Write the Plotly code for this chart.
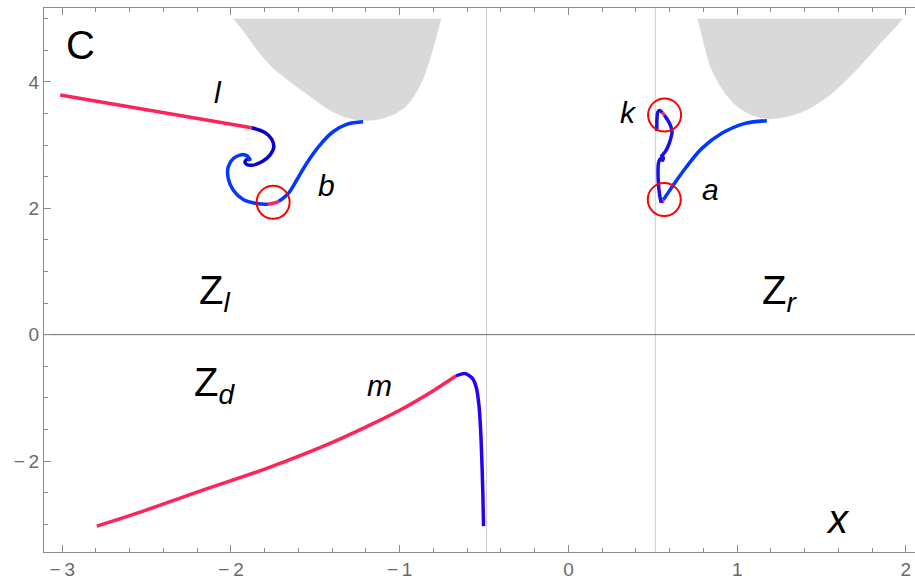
import plotly.graph_objects as go

# ---------------- data ----------------
# shaded regions (boundary, closed along C = 5)
gray_left_x = [-1.986, -1.950, -1.917, -1.858, -1.799, -1.740, -1.680, -1.621, -1.562, -1.503, -1.444, -1.385, -1.325, -1.266, -1.207, -1.148, -1.089, -1.030, -0.970, -0.930, -0.893, -0.862, -0.834, -0.804, -0.775, -0.753]
gray_left_y = [5.0, 4.88, 4.77, 4.55, 4.35, 4.19, 4.06, 3.94, 3.83, 3.71, 3.60, 3.51, 3.44, 3.40, 3.386, 3.395, 3.43, 3.49, 3.59, 3.71, 3.87, 4.04, 4.24, 4.50, 4.78, 5.0]
gray_right_x = [0.765, 0.782, 0.801, 0.820, 0.840, 0.868, 0.899, 0.936, 0.978, 1.025, 1.077, 1.135, 1.195, 1.255, 1.314, 1.373, 1.432, 1.491, 1.550, 1.610, 1.669, 1.728, 1.787, 1.846, 1.905, 1.945, 1.981]
gray_right_y = [5.0, 4.80, 4.61, 4.42, 4.24, 4.08, 3.93, 3.79, 3.66, 3.56, 3.48, 3.43, 3.41, 3.425, 3.46, 3.51, 3.58, 3.68, 3.79, 3.93, 4.08, 4.25, 4.43, 4.60, 4.77, 4.88, 5.0]

# curve l
l_red_x = [-3.012, -2.440, -1.877]
l_red_y = [3.794, 3.535, 3.275]
l_blue_x = [-1.877, -1.799, -1.759, -1.746, -1.769, -1.817, -1.868, -1.907, -1.917, -1.898, -1.882]
l_blue_y = [3.275, 3.198, 3.095, 2.973, 2.841, 2.735, 2.683, 2.694, 2.735, 2.786, 2.762]

# curve b
b_blue1_x = [-1.888, -1.900, -1.923, -1.947, -1.986, -2.016, -2.016, -1.986, -1.927, -1.848, -1.781]
b_blue1_y = [2.746, 2.825, 2.849, 2.841, 2.789, 2.656, 2.471, 2.286, 2.138, 2.075, 2.063]
b_red_x = [-1.781, -1.750, -1.716]
b_red_y = [2.063, 2.080, 2.111]
b_blue2_x = [-1.716, -1.661, -1.611, -1.552, -1.473, -1.395, -1.315, -1.217]
b_blue2_y = [2.111, 2.233, 2.444, 2.710, 3.000, 3.211, 3.329, 3.370]

# curve a
a_blue_x = [1.176, 1.047, 0.909, 0.791, 0.692, 0.614, 0.574, 0.562]
a_blue_y = [3.386, 3.344, 3.186, 2.948, 2.630, 2.338, 2.179, 2.135]
a_red_x = [0.562, 0.552]
a_red_y = [2.135, 2.084]

# curve k
k_blue1_x = [0.550, 0.541, 0.534, 0.531, 0.534, 0.544, 0.558, 0.562, 0.552, 0.560, 0.575, 0.592, 0.607, 0.614, 0.604, 0.580, 0.568]
k_blue1_y = [2.084, 2.206, 2.365, 2.571, 2.714, 2.780, 2.760, 2.800, 2.830, 2.850, 2.900, 2.990, 3.111, 3.211, 3.317, 3.429, 3.476]
k_red_x = [0.568, 0.556]
k_red_y = [3.476, 3.516]
k_blue2_x = [0.556, 0.541, 0.530, 0.525, 0.524, 0.524]
k_blue2_y = [3.516, 3.548, 3.524, 3.429, 3.317, 3.222]

# curve m
m_red_x = [-2.795, -2.578, -2.183, -1.788, -1.395, -1.199, -1.000, -0.803, -0.665]
m_red_y = [-3.030, -2.845, -2.476, -2.115, -1.700, -1.460, -1.196, -0.890, -0.651]
m_blue_x = [-0.665, -0.635, -0.615, -0.596, -0.566, -0.546, -0.531, -0.521, -0.513, -0.507, -0.503]
m_blue_y = [-0.651, -0.624, -0.614, -0.635, -0.703, -0.836, -1.100, -1.471, -2.000, -2.529, -3.030]

# marked points (red circles)
circle_x = [-1.750, 0.570, 0.568]
circle_y = [2.095, 3.476, 2.138]

# reference lines
vline_x = [-0.485, 0.515]
hline_y = [0]

# labels
label_text = ["<i>l</i>", "<i>b</i>", "<i>k</i>", "<i>a</i>", "<i>m</i>"]
label_x = [-2.077, -1.432, 0.355, 0.840, -1.118]
label_y = [3.84, 2.365, 3.52, 2.29, -0.81]
big_text = ["C", "Z<sub><i>l</i></sub>", "Z<sub><i>r</i></sub>", "Z<sub><i>d</i></sub>", "<i>x</i>"]
big_x = [-2.893, -2.100, 1.250, -2.100, 1.598]
big_y = [4.59, 0.66, 0.66, -0.80, -2.92]

x_ticks = [-3, -2, -1, 0, 1, 2]
y_ticks = [-2, 0, 2, 4]


def tick_label(v):
    return ("\u2212\u2009" + str(-v)) if v < 0 else str(v)


# ---------------- styles ----------------
RED = "#FF2457"
DBLUE = "#0A00C8"
BLUE = "#0038FF"
MBLUE = "#2A00F5"
GRAY = "#D9D9D9"
LW = 3.5
FONT = "Liberation Sans, Arial, sans-serif"

fig = go.Figure()

for gx, gy in [(gray_left_x, gray_left_y), (gray_right_x, gray_right_y)]:
    fig.add_trace(go.Scatter(x=gx, y=gy, mode="lines", fill="toself", fillcolor=GRAY,
                             line=dict(width=0, color=GRAY, shape="linear"),
                             hoverinfo="skip", showlegend=False))

for vx in vline_x:
    fig.add_vline(x=vx, line=dict(color="#CFCFCF", width=1), layer="below")
for hy in hline_y:
    fig.add_hline(y=hy, line=dict(color="#6A6A6A", width=1), layer="below")

segments = [
    (l_red_x, l_red_y, RED, "linear"),
    (l_blue_x, l_blue_y, DBLUE, "spline"),
    (b_blue1_x, b_blue1_y, BLUE, "spline"),
    (b_red_x, b_red_y, RED, "spline"),
    (b_blue2_x, b_blue2_y, BLUE, "spline"),
    (a_blue_x, a_blue_y, BLUE, "spline"),
    (a_red_x, a_red_y, RED, "linear"),
    (k_blue1_x, k_blue1_y, "#1A10E8", "spline"),
    (k_red_x, k_red_y, RED, "linear"),
    (k_blue2_x, k_blue2_y, "#1A10E8", "spline"),
    (m_red_x, m_red_y, RED, "spline"),
    (m_blue_x, m_blue_y, MBLUE, "spline"),
]
for sx, sy, col, shp in segments:
    fig.add_trace(go.Scatter(x=sx, y=sy, mode="lines",
                             line=dict(color=col, width=LW, shape=shp, smoothing=1.0),
                             hoverinfo="skip", showlegend=False))

fig.add_trace(go.Scatter(x=circle_x, y=circle_y, mode="markers",
                         marker=dict(symbol="circle-open", size=33, color="#FF0000",
                                     line=dict(width=2, color="#FF0000")),
                         hoverinfo="skip", showlegend=False))

for t, x, y in zip(label_text, label_x, label_y):
    fig.add_annotation(x=x, y=y, text=t, showarrow=False,
                       font=dict(family=FONT, size=30, color="black"))
for t, x, y in zip(big_text, big_x, big_y):
    fig.add_annotation(x=x, y=y, text=t, showarrow=False,
                       font=dict(family=FONT, size=40, color="black"))

axis_common = dict(showgrid=False, zeroline=False, showline=True, linecolor="#8C8C8C",
                   linewidth=1, ticks="inside", tickcolor="#8C8C8C", tickwidth=1,
                   tickfont=dict(family=FONT, size=19, color="#6A6A6A"))

fig.update_xaxes(range=[-3.108, 2.054], tickvals=x_ticks, ticktext=[tick_label(v) for v in x_ticks],
                 ticklen=7, mirror="ticks",
                 minor=dict(dtick=0.2, tick0=0, ticks="inside", ticklen=4, tickcolor="#8C8C8C"),
                 **axis_common)
fig.update_yaxes(range=[-3.44, 5.17], tickvals=y_ticks, ticktext=[tick_label(v) for v in y_ticks],
                 ticklen=7, mirror=False,
                 minor=dict(dtick=0.5, tick0=0, ticks="inside", ticklen=4, tickcolor="#8C8C8C"),
                 **axis_common)

fig.update_layout(width=915, height=584, margin=dict(l=44, r=0, t=8, b=32),
                  plot_bgcolor="white", paper_bgcolor="white", showlegend=False)

fig.write_html("out.html")
